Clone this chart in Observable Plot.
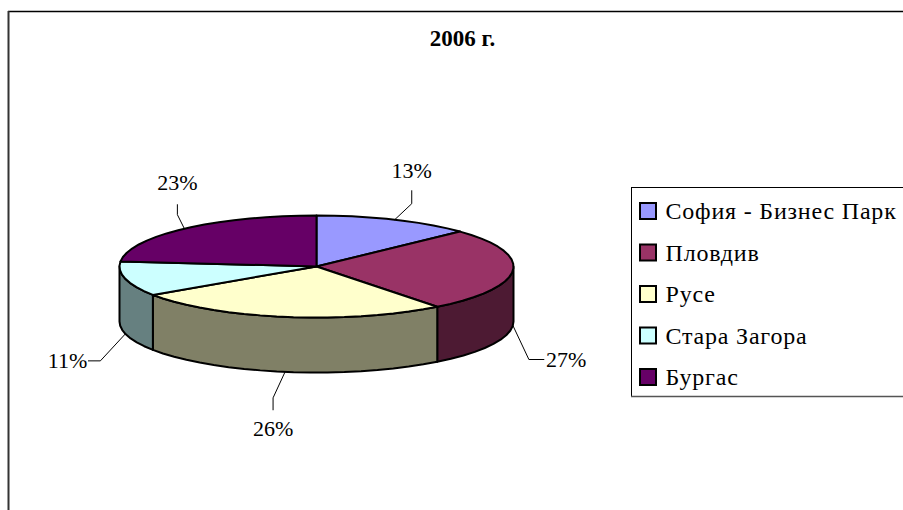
<!DOCTYPE html>
<html><head><meta charset="utf-8">
<script src="https://cdn.jsdelivr.net/npm/d3@7"></script>
<script src="https://cdn.jsdelivr.net/npm/@observablehq/plot@0.6"></script>
<style>html,body{margin:0;padding:0;background:#fff;overflow:hidden}svg{display:block}
.legend-text text{letter-spacing:.8px}</style>
</head><body><div id="chart"></div>
<script>
const title = "2006 г.";
const names = ["София - Бизнес Парк", "Пловдив", "Русе", "Стара Загора", "Бургас"];
const shares = [13.0, 26.5, 26.1, 11.0, 23.4];
const topColors = ["#9999FF", "#993366", "#FFFFCC", "#CCFFFF", "#660066"];
const sideColors = ["#4D4D80", "#4D1A33", "#808066", "#668080", "#330033"];

// Layout of the tilted pie and its leaders (offsets from each slice's edge anchor)
const cx = 316, cy = 266, rx = 197, ry = 51, depth = 55;
const elbowOffset = [[17,-16],[16,34],[-12,26],[-25,27],[-7,-14]];
const stubOffset  = [[17,-29],[31,34],[-12,38],[-37,27],[-7,-24]];
const labelOffset = [[17,-49],[33,34],[-12,57],[-38,27],[-7,-46]];

const total = d3.sum(shares);
const cumulative = d3.cumsum(shares);
const ang = p => p / total * 2 * Math.PI;
const ex = a => cx + rx * Math.sin(a);
const ey = a => cy - ry * Math.cos(a);
const arc = (a0, a1, step = 5 * Math.PI / 180) => {
  const n = Math.max(1, Math.round((a1 - a0) / step));
  return d3.range(n + 1).map(i => a0 + (a1 - a0) * i / n);
};

const slices = names.map((name, i) => {
  const a0 = ang(i ? cumulative[i - 1] : 0), a1 = ang(cumulative[i]);
  return {name, i, a0, a1, mid: (a0 + a1) / 2, share: shares[i]};
});

const topPts = slices.flatMap(s => [
  {name: s.name, x: cx, y: cy},
  ...arc(s.a0, s.a1).map(a => ({name: s.name, x: ex(a), y: ey(a)})),
  {name: s.name, x: cx, y: cy}
]);

const wallPts = slices.flatMap(s => {
  const a0 = Math.max(s.a0, Math.PI / 2), a1 = Math.min(s.a1, 3 * Math.PI / 2);
  if (a1 <= a0) return [];
  const as = arc(a0, a1);
  const up = as.map(a => ({name: s.name, x: ex(a), y: ey(a)}));
  const dn = as.slice().reverse().map(a => ({name: s.name, x: ex(a), y: ey(a) + depth}));
  return [...up, ...dn, up[0]];
});

const anchors = slices.map(s => {
  const front = Math.cos(s.mid) < 0;
  return {x: ex(s.mid), y: ey(s.mid) + (front ? depth : 0)};
});
const leaderPts = slices.flatMap((s, i) => [
  {name: s.name, x: anchors[i].x, y: anchors[i].y},
  {name: s.name, x: anchors[i].x + elbowOffset[i][0], y: anchors[i].y + elbowOffset[i][1]},
  {name: s.name, x: anchors[i].x + stubOffset[i][0], y: anchors[i].y + stubOffset[i][1]}
]);
const labels = slices.map((s, i) => ({
  text: Math.round(s.share / total * 100) + "%",
  x: anchors[i].x + labelOffset[i][0],
  y: anchors[i].y + labelOffset[i][1],
  anchor: i === 1 ? "start" : i === 3 ? "end" : "middle"
}));

const legendRows = names.map((name, i) => ({name, i, rowY: 211 + i * 41.5}));
const serif = "'Liberation Serif','Times New Roman',serif";

const chart = Plot.plot({
  width: 903, height: 510, margin: 0,
  x: {domain: [0, 903], range: [0, 903], axis: null},
  y: {domain: [0, 510], range: [0, 510], axis: null},
  color: {domain: names, range: topColors},
  style: {background: "#fff", fontFamily: serif},
  marks: [
    // outer frame
    Plot.ruleY([11], {x1: 8, x2: 903, stroke: "#000", strokeWidth: 1.5}),
    Plot.ruleX([8], {y1: 11, y2: 510, stroke: "#333", strokeWidth: 2}),
    // walls
    Plot.line(wallPts, {x: "x", y: "y", z: "name",
      fill: d => sideColors[names.indexOf(d.name)],
      stroke: "#000", strokeWidth: 2, strokeLinejoin: "round", curve: "linear"}),
    // top face
    Plot.line(topPts, {x: "x", y: "y", z: "name", fill: "name",
      stroke: "#000", strokeWidth: 2, strokeLinejoin: "round", curve: "linear"}),
    // leaders and labels
    Plot.line(leaderPts, {x: "x", y: "y", z: "name", stroke: "#000", strokeWidth: 1, curve: "linear"}),
    ...["start", "middle", "end"].map(anchor =>
      Plot.text(labels.filter(d => d.anchor === anchor), {
        x: "x", y: "y", text: "text", textAnchor: anchor, fontSize: 22, fill: "#000"})),
    // title
    Plot.text([title], {x: () => 462, y: () => 38, text: d => d, fontSize: 23, fontWeight: "bold", fill: "#000"}),
    // legend box
    Plot.ruleX([631], {y1: 187, y2: 396, stroke: "#000", strokeWidth: 1}),
    Plot.ruleY([187], {x1: 631, x2: 903, stroke: "#000", strokeWidth: 1}),
    Plot.ruleY([396], {x1: 631, x2: 903, stroke: "#555", strokeWidth: 1.5}),
    Plot.rect(legendRows, {
      x1: () => 640, x2: () => 656,
      y1: d => d.rowY - 8, y2: d => d.rowY + 8,
      fill: "name", stroke: "#000", strokeWidth: 2}),
    Plot.text(legendRows, {x: () => 665, y: "rowY", text: "name", textAnchor: "start",
      fontSize: 24, fill: "#000", className: "legend-text"})
  ]
});
document.getElementById("chart").append(chart);
</script></body></html>
